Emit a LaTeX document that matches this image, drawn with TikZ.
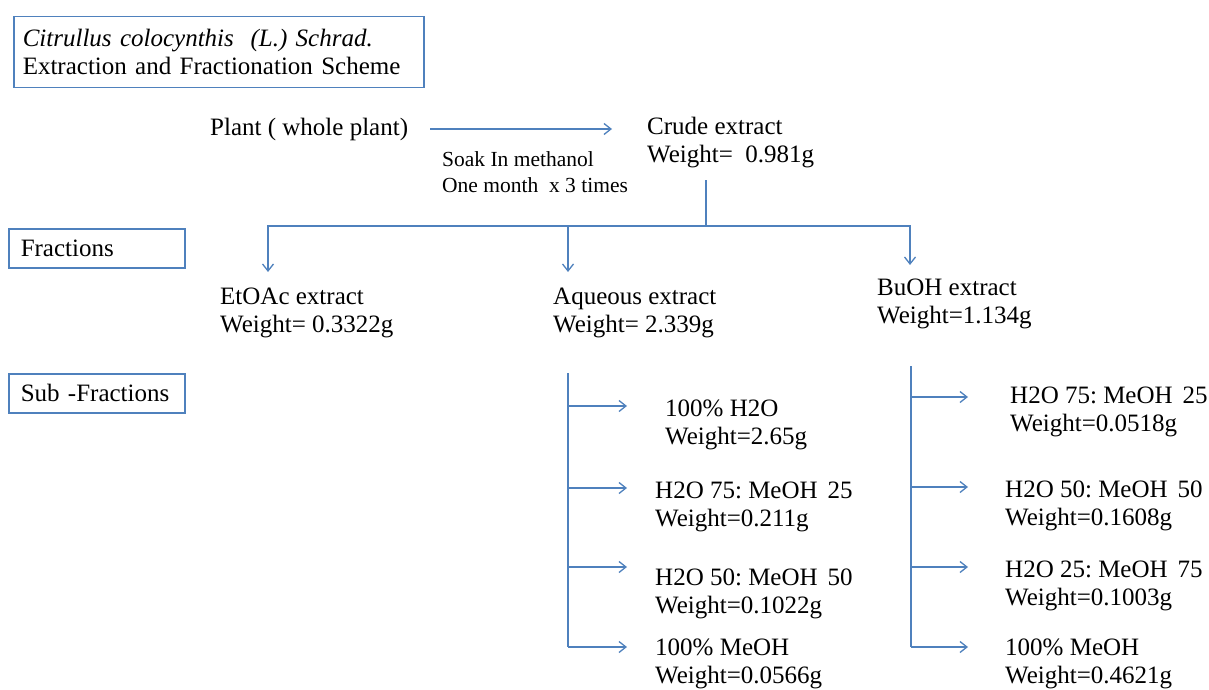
\documentclass[tikz,border=0pt]{standalone}
\usepackage{fontspec}
\setmainfont{Liberation Serif}
\usetikzlibrary{arrows.meta}
\definecolor{lineblue}{RGB}{79,129,189}
\frenchspacing
\begin{document}
\begin{tikzpicture}[x=1pt,y=-1pt,>={Straight Barb[length=7pt,width=11pt]},
	txt/.style={anchor=west,align=left,inner sep=0pt,font=\fontsize{25}{28}\selectfont},
	small/.style={anchor=west,align=left,inner sep=0pt,font=\fontsize{21.5}{26}\selectfont},
	conn/.style={draw=lineblue,line width=1.3pt},
	labelbox/.style={draw=lineblue,line width=1.5pt,anchor=north west,align=left,inner ysep=0pt,font=\fontsize{25}{28}\selectfont}]
			\useasboundingbox (0,0) rectangle (1209,690);
			
			\node[labelbox,inner xsep=9pt,text width=392pt,minimum height=71pt] (title) at (13,16) {\textit{Citrullus colocynthis\ \ (L.) Schrad.}\\Extraction and Fractionation Scheme};
			\node[labelbox,inner xsep=12pt,text width=152pt,minimum height=39pt] (frac) at (8,228) {Fractions};
			\node[labelbox,inner xsep=12pt,text width=152pt,minimum height=39pt] (subfrac) at (8,373) {Sub -Fractions};
			
			\node[txt] (plant) at (210,129) {Plant ( whole plant)};
			\node[txt] (crude) at (647,143) {Crude extract\\Weight=\ \ 0.981g};
			\node[small] (soak) at (442,172) {Soak In methanol\\One month\ \ x 3 times};
			\draw[conn,->,shorten <=22pt,shorten >=35pt] (plant.east) -- (plant.east -| crude.west);
			
			\node[txt] (etoac) at (220,313) {EtOAc extract\\Weight= 0.3322g};
			\node[txt] (aqueous) at (553,313) {Aqueous extract\\Weight= 2.339g};
			\node[txt] (buoh) at (877,304) {BuOH extract\\Weight=1.134g};
			
			\coordinate (C) at (706,180);
			\coordinate (split) at (706,226);
			\coordinate (E) at (268,272);
			\coordinate (A) at (568,272);
			\coordinate (B) at (910,265);
			\draw[conn] (C) -- (split);
			\draw[conn,->] (split) -| (E);
			\draw[conn,->] (split) -| (A);
			\draw[conn,->] (split) -| (B);
			
			% aqueous sub-fractions
			\node[txt] (aq1) at (665,425) {100\% H2O\\Weight=2.65g};
			\node[txt] (aq2) at (655,507) {H2O 75: MeOH\hspace{0.4em}25\\Weight=0.211g};
			\node[txt] (aq3) at (655,594) {H2O 50: MeOH\hspace{0.4em}50\\Weight=0.1022g};
			\node[txt] (aq4) at (655,664) {100\% MeOH\\Weight=0.0566g};
			\coordinate (AT) at (568,373);
			\coordinate (A1) at (568,406);
			\coordinate (A2) at (568,488);
			\coordinate (A3) at (568,567);
			\coordinate (A4) at (568,647);
			\draw[conn] (AT) -- (A4);
			\draw[conn,->,shorten >=38pt] (A1) -- (A1 -| aq1.west);
			\draw[conn,->,shorten >=28pt] (A2) -- (A2 -| aq2.west);
			\draw[conn,->,shorten >=28pt] (A3) -- (A3 -| aq3.west);
			\draw[conn,->,shorten >=28pt] (A4) -- (A4 -| aq4.west);
			
			% butanol sub-fractions
			\node[txt] (bu1) at (1010,412) {H2O 75: MeOH\hspace{0.4em}25\\Weight=0.0518g};
			\node[txt] (bu2) at (1005,506) {H2O 50: MeOH\hspace{0.4em}50\\Weight=0.1608g};
			\node[txt] (bu3) at (1005,586) {H2O 25: MeOH\hspace{0.4em}75\\Weight=0.1003g};
			\node[txt] (bu4) at (1005,664) {100\% MeOH\\Weight=0.4621g};
			\coordinate (BT) at (911,366);
			\coordinate (B1) at (911,397);
			\coordinate (B2) at (911,487);
			\coordinate (B3) at (911,567);
			\coordinate (B4) at (911,647);
			\draw[conn] (BT) -- (B4);
			\draw[conn,->,shorten >=42pt] (B1) -- (B1 -| bu1.west);
			\draw[conn,->,shorten >=37pt] (B2) -- (B2 -| bu2.west);
			\draw[conn,->,shorten >=37pt] (B3) -- (B3 -| bu3.west);
			\draw[conn,->,shorten >=37pt] (B4) -- (B4 -| bu4.west);
		\end{tikzpicture}
\end{document}
